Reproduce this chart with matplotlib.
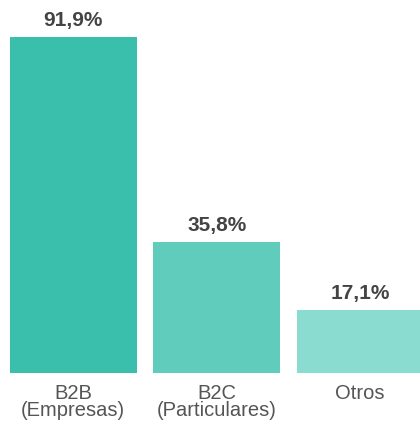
import matplotlib.pyplot as plt

# data
categories = ["B2B\n(Empresas)", "B2C\n(Particulares)", "Otros"]
values = [91.9, 35.8, 17.1]
value_labels = ["91,9%", "35,8%", "17,1%"]
colors = ["#3bbfad", "#60ccbc", "#8adbd0"]

plt.rcParams['font.family'] = ['Liberation Sans', 'DejaVu Sans']

fig = plt.figure(figsize=(4.2, 4.21), dpi=100)
ax = fig.add_axes([0, 0.1152, 1, 0.8848])

x = range(len(values))
bars = ax.bar(x, values, width=0.885, color=colors)

ax.set_xlim(-0.5105, 2.4164)
ax.set_ylim(0, 102.03)

for xi, v, lab in zip(x, values, value_labels):
    ax.annotate(lab, (xi, v), xytext=(0, 5), textcoords='offset points',
                ha='center', va='bottom', fontsize=15, fontweight='bold',
                color='#444444')

for xi, cat in zip(x, categories):
    ax.annotate(cat, (xi, 0), xytext=(0, -8), textcoords='offset points',
                ha='center', va='top', fontsize=14.5, color='#555555',
                linespacing=0.9)

ax.axis('off')

fig.savefig("out.png", dpi=100)
